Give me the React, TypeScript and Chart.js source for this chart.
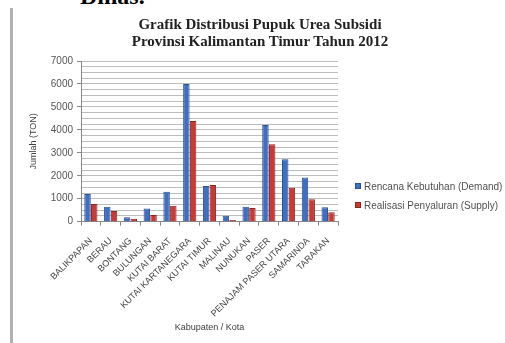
import React, { useEffect, useRef } from "react";
import { Chart, registerables } from "chart.js";

Chart.register(...registerables);

const categories = [
  "BALIKPAPAN",
  "BERAU",
  "BONTANG",
  "BULUNGAN",
  "KUTAI BARAT",
  "KUTAI KARTANEGARA",
  "KUTAI TIMUR",
  "MALINAU",
  "NUNUKAN",
  "PASER",
  "PENAJAM PASER UTARA",
  "SAMARINDA",
  "TARAKAN",
];

const demandLabel = "Rencana Kebutuhan (Demand)";
const supplyLabel = "Realisasi Penyaluran (Supply)";

const demand = [1210, 650, 190, 580, 1310, 6000, 1560, 260, 650, 4210, 2720, 1930, 630];
const supply = [770, 470, 130, 290, 700, 4390, 1600, 70, 600, 3370, 1480, 980, 410];

const titleLines = ["Grafik Distribusi Pupuk Urea Subsidi", "Provinsi Kalimantan Timur Tahun 2012"];
const yTitle = "Jumlah (TON)";
const xTitle = "Kabupaten / Kota";
const yMax = 7000;
const yLabelStep = 1000;
const yGridStep = 250;

const blueFill = "#3F6FC0";
const blueBorder = "#2C4F94";
const redFill = "#C83A35";
const redBorder = "#8E2420";

export default function App() {
  const canvasRef = useRef<HTMLCanvasElement | null>(null);

  useEffect(() => {
    const canvas = canvasRef.current;
    if (!canvas) return;
    const chart = new Chart(canvas, {
      type: "bar",
      data: {
        labels: categories,
        datasets: [
          {
            label: demandLabel,
            data: demand,
            backgroundColor: blueFill,
            borderColor: blueBorder,
            borderWidth: 1,
            categoryPercentage: 0.68,
            barPercentage: 0.96,
          },
          {
            label: supplyLabel,
            data: supply,
            backgroundColor: redFill,
            borderColor: redBorder,
            borderWidth: 1,
            categoryPercentage: 0.68,
            barPercentage: 0.96,
          },
        ],
      },
      options: {
        responsive: false,
        animation: false,
        layout: { padding: { left: 24, top: 61, right: 167, bottom: 6 } },
        plugins: {
          legend: { display: false },
          title: { display: false },
          tooltip: { enabled: false },
        },
        scales: {
          x: {
            grid: {
              display: true,
              drawOnChartArea: false,
              tickLength: 4,
              tickColor: "#888",
            },
            border: { display: true, color: "#888" },
            ticks: {
              autoSkip: false,
              maxRotation: 45,
              minRotation: 45,
              padding: 10,
              color: "#404040",
              font: { family: "'Liberation Sans', Arial, sans-serif", size: 9 },
            },
            title: {
              display: true,
              text: xTitle,
              color: "#404040",
              padding: { top: 4, bottom: 4 },
              font: { family: "'Liberation Sans', Arial, sans-serif", size: 9 },
            },
            afterFit: (scale: any) => {
              scale.height = 115.3;
            },
          },
          y: {
            min: 0,
            max: yMax,
            grid: {
              color: "#bdbdbd",
              lineWidth: 1,
              tickLength: 4,
              tickColor: (ctx: any) =>
                ctx.tick && ctx.tick.value % yLabelStep === 0 ? "#888" : "rgba(0,0,0,0)",
            },
            border: { display: true, color: "#888" },
            ticks: {
              stepSize: yGridStep,
              autoSkip: false,
              padding: 4,
              color: "#555",
              font: { family: "'Liberation Sans', Arial, sans-serif", size: 10 },
              callback: (v: any) => (Number(v) % yLabelStep === 0 ? String(v) : ""),
            },
            title: {
              display: true,
              text: yTitle,
              color: "#404040",
              padding: { top: 4, bottom: 4 },
              font: { family: "'Liberation Sans', Arial, sans-serif", size: 9 },
            },
            afterFit: (scale: any) => {
              scale.width = 57;
            },
          },
        },
      },
    });
    return () => chart.destroy();
  }, []);

  const legendItems = [
    { label: demandLabel, color: blueFill, border: blueBorder },
    { label: supplyLabel, color: redFill, border: redBorder },
  ];

  return (
    <div
      style={{
        position: "absolute",
        left: 0,
        top: 0,
        width: 505,
        height: 343,
        background: "#fff",
        overflow: "hidden",
      }}
    >
      <div
        style={{
          position: "absolute",
          left: 80,
          top: -17,
          fontFamily: "'Liberation Serif', serif",
          fontWeight: "bold",
          fontSize: 24,
          color: "#000",
          whiteSpace: "nowrap",
        }}
      >
        Dinas.
      </div>
      <div
        style={{
          position: "absolute",
          left: 10,
          top: 8,
          width: 3,
          height: 335,
          background: "#b0b0b0",
        }}
      />
      <canvas ref={canvasRef} width={505} height={343} style={{ position: "absolute", left: 0, top: 0 }} />
      <div
        style={{
          position: "absolute",
          left: 60,
          width: 400,
          top: 16,
          textAlign: "center",
          fontFamily: "'Liberation Serif', serif",
          fontWeight: "bold",
          fontSize: 15,
          lineHeight: "17px",
          color: "#222",
        }}
      >
        {titleLines.map((t) => (
          <div key={t}>{t}</div>
        ))}
      </div>
      {legendItems.map((it, i) => (
        <div
          key={it.label}
          style={{
            position: "absolute",
            left: 355,
            top: 180 + i * 19,
            height: 12,
            display: "flex",
            alignItems: "center",
            fontFamily: "'Liberation Sans', Arial, sans-serif",
            fontSize: 10,
            color: "#505050",
            whiteSpace: "nowrap",
          }}
        >
          <span
            style={{
              display: "inline-block",
              width: 6,
              height: 6,
              background: it.color,
              border: `1px solid ${it.border}`,
              marginRight: 3,
              boxSizing: "border-box",
            }}
          />
          {it.label}
        </div>
      ))}
    </div>
  );
}
